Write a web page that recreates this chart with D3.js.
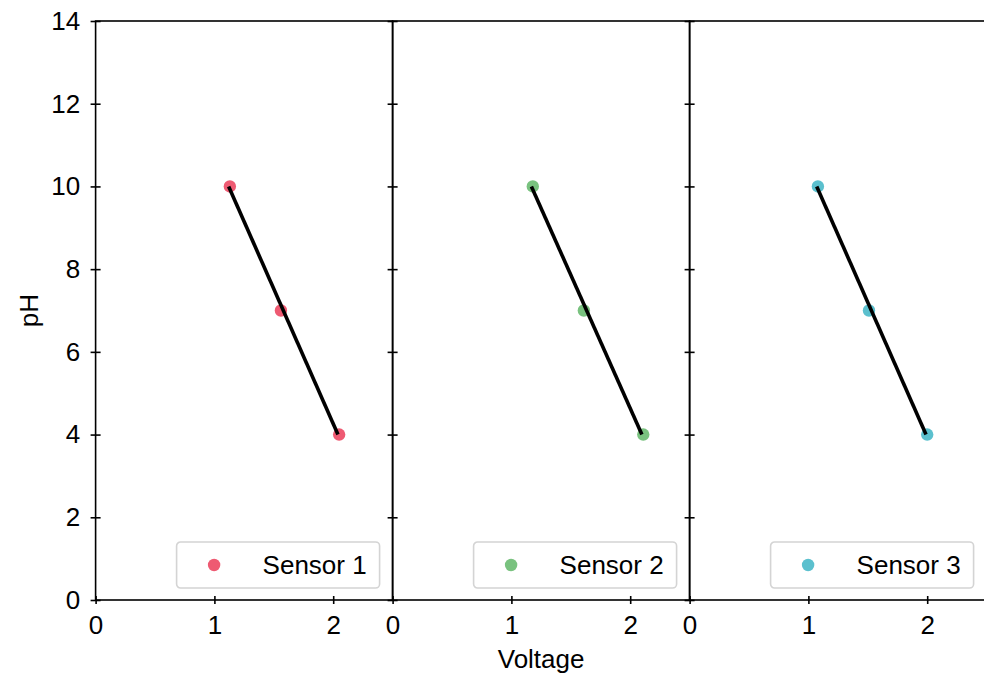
<!DOCTYPE html>
<html>
<head>
<meta charset="utf-8">
<script src="https://cdn.jsdelivr.net/npm/d3@7"></script>
<style>
  body { margin: 0; background: #fff; }
  text { font-family: "Liberation Sans", Arial, sans-serif; fill: #000; }
</style>
</head>
<body>
<div id="main"></div>
<script>
const sensors = ["Sensor 1", "Sensor 2", "Sensor 3"];
const phLevels = [10, 7, 4];
const voltage1 = [1.13, 1.56, 2.05];
const voltage2 = [1.18, 1.61, 2.11];
const voltage3 = [1.08, 1.51, 2.00];
const sensorColors = ["#ee5a72", "#79c27f", "#5bc0ce"];
const xTicks = [0, 1, 2];
const yTicks = [0, 2, 4, 6, 8, 10, 12, 14];

class SensorPanels {
  constructor(config) {
    this.config = config;
    this.svg = null;
    this.margins = null;
    this.xScale = null;
    this.yScale = null;
    this.panels = [];
    this.createSvg();
    this.createMargins();
  }

  createSvg() {
    this.svg = d3.select(this.config.div)
      .append("svg")
      .attr("width", this.config.W)
      .attr("height", this.config.H);
  }

  createMargins() {
    this.margins = this.svg.append("g")
      .attr("transform", `translate(${this.config.left},${this.config.top})`);
  }

  loadData() {
    const volts = [voltage1, voltage2, voltage3];
    this.panels = sensors.map((name, i) => ({
      name: name,
      color: sensorColors[i],
      pts: phLevels.map((p, j) => ({ v: volts[i][j], ph: p }))
    }));
  }

  createScales() {
    this.xScale = d3.scaleLinear().domain([0, 2.5]).range([0, this.config.pw]);
    this.yScale = d3.scaleLinear().domain([0, 14]).range([this.config.height, 0]);
  }

  // voltage fitted on pH, drawn at the pH extremes
  fitLine(pts) {
    const mx = d3.mean(pts, d => d.ph);
    const my = d3.mean(pts, d => d.v);
    const b = d3.sum(pts, d => (d.ph - mx) * (d.v - my)) / d3.sum(pts, d => (d.ph - mx) ** 2);
    const a = my - b * mx;
    const ext = d3.extent(pts, d => d.ph);
    return ext.map(p => ({ v: a + b * p, ph: p }));
  }

  render() {
    const c = this.config;
    const fs = 26;
    const line = d3.line().x(d => this.xScale(d.v)).y(d => this.yScale(d.ph));

    this.panels.forEach((panel, i) => {
      const g = this.margins.append("g")
        .attr("transform", `translate(${i * c.pw},0)`);

      g.selectAll("circle.pt")
        .data(panel.pts)
        .join("circle")
        .attr("class", "pt")
        .attr("cx", d => this.xScale(d.v))
        .attr("cy", d => this.yScale(d.ph))
        .attr("r", 6.2)
        .attr("fill", panel.color);

      g.append("path")
        .datum(this.fitLine(panel.pts))
        .attr("fill", "none")
        .attr("stroke", "#000")
        .attr("stroke-width", 3.6)
        .attr("d", line);

      // frame
      g.append("rect")
        .attr("width", c.pw).attr("height", c.height)
        .attr("fill", "none").attr("stroke", "#000").attr("stroke-width", 1.6);

      const xAxis = d3.axisBottom(this.xScale).tickValues(xTicks).tickFormat(d3.format("d"))
        .tickSize(0).tickPadding(16);
      const xg = g.append("g").attr("transform", `translate(0,${c.height})`).call(xAxis);
      xg.select(".domain").remove();
      xg.selectAll(".tick line").attr("y1", -4).attr("y2", 4).attr("stroke", "#000").attr("stroke-width", 1.6);
      xg.selectAll(".tick text").attr("font-size", fs).attr("fill", "#000")
        .attr("font-family", "'Liberation Sans', Arial, sans-serif");

      const yAxis = d3.axisLeft(this.yScale).tickValues(yTicks).tickSize(0).tickPadding(15.5);
      const yg = g.append("g").call(yAxis);
      yg.select(".domain").remove();
      yg.selectAll(".tick line").attr("x1", -5).attr("x2", 5).attr("stroke", "#000").attr("stroke-width", 1.6);
      yg.selectAll(".tick text").attr("font-size", fs).attr("fill", "#000")
        .attr("font-family", "'Liberation Sans', Arial, sans-serif")
        .style("display", i === 0 ? null : "none");

      // legend
      const lg = g.append("g").attr("transform", `translate(${c.pw - 216},${c.height - 58})`);
      lg.append("rect")
        .attr("width", 203).attr("height", 46).attr("rx", 4)
        .attr("fill", "#fff").attr("fill-opacity", 0.8)
        .attr("stroke", "#d4d4d4").attr("stroke-width", 1.6);
      lg.append("circle").attr("cx", 37.5).attr("cy", 23).attr("r", 6.2).attr("fill", panel.color);
      lg.append("text").attr("x", 86).attr("y", 32)
        .attr("font-size", fs).text(panel.name);
    });

    this.svg.append("text")
      .attr("x", c.left + 1.5 * c.pw).attr("y", 668)
      .attr("text-anchor", "middle").attr("font-size", fs)
      .text("Voltage");

    this.svg.append("text")
      .attr("transform", `translate(38,${c.top + c.height / 2}) rotate(-90)`)
      .attr("text-anchor", "middle").attr("font-size", fs)
      .text("pH");
  }
}

function main() {
  const c = { div: "#main", W: 984, H: 677, top: 21, left: 95.6, pw: 297, height: 579 };
  const app = new SensorPanels(c);
  app.loadData();
  app.createScales();
  app.render();
}

main();
</script>
</body>
</html>
